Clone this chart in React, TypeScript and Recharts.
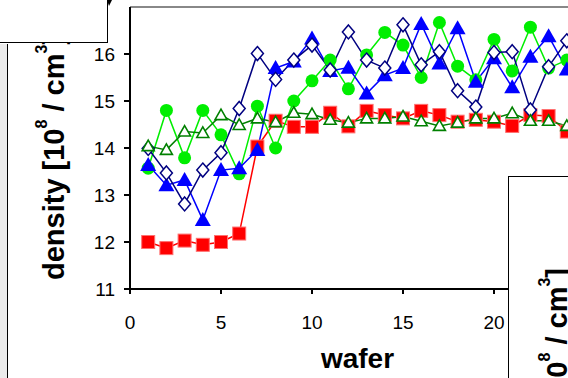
import React from 'react';
import { LineChart, Line, XAxis, YAxis, ReferenceLine, Label } from 'recharts';

const wafers = [1, 2, 3, 4, 5, 6, 7, 8, 9, 10, 11, 12, 13, 14, 15, 16, 17, 18, 19, 20, 21, 22, 23, 24];
const redSquares = [12.0, 11.87, 12.03, 11.94, 12.0, 12.18, 14.03, 14.58, 14.45, 14.45, 14.75, 14.46, 14.79, 14.7, 14.63, 14.79, 14.7, 14.56, 14.6, 14.56, 14.47, 14.7, 14.68, 14.35];
const greenTriangles = [14.04, 13.96, 14.35, 14.32, 14.7, 14.49, 14.63, 14.55, 14.75, 14.72, 14.6, 14.54, 14.63, 14.63, 14.67, 14.57, 14.47, 14.54, 14.63, 14.63, 14.74, 14.58, 14.58, 14.47];
const limeCircles = [13.57, 14.8, 13.79, 14.8, 14.28, 13.45, 14.89, 14.0, 15.0, 15.43, 15.87, 15.26, 15.98, 16.46, 16.19, 15.5, 16.67, 15.74, 15.45, 16.31, 15.64, 16.57, 15.7, 15.87];
const blueTriangles = [13.64, 13.21, 13.32, 12.47, 13.53, 13.57, 13.96, 15.7, 15.84, 16.33, 15.64, 15.71, 15.16, 15.55, 15.7, 16.64, 15.8, 16.55, 15.41, 15.91, 15.29, 15.94, 16.38, 15.67];
const navyDiamonds = [13.99, 13.47, 12.81, 13.53, 13.9, 14.84, 16.01, 15.46, 15.87, 16.19, 15.66, 16.47, 15.87, 15.7, 16.62, 15.77, 16.05, 15.22, 14.87, 16.03, 16.05, 14.81, 15.73, 16.28];

const xTicks = [0, 5, 10, 15, 20, 25];
const yTicks = [11, 12, 13, 14, 15, 16];

const data = wafers.map((w, i) => ({
  wafer: w,
  red: redSquares[i],
  dkgreen: greenTriangles[i],
  lime: limeCircles[i],
  blue: blueTriangles[i],
  navy: navyDiamonds[i],
}));

const FONT = '"Liberation Sans", Arial, sans-serif';

const squareDot = (p: any) => (
  <rect key={p.index} x={p.cx - 6.5} y={p.cy - 6.5} width={13} height={13} fill="#ff0000" stroke="#ff7070" strokeWidth={1} />
);
const circleDot = (p: any) => <circle key={p.index} cx={p.cx} cy={p.cy} r={6.5} fill="#00ee00" />;
const blueTriDot = (p: any) => (
  <path key={p.index} d={`M${p.cx},${p.cy - 8} L${p.cx + 8},${p.cy + 6} L${p.cx - 8},${p.cy + 6} Z`} fill="#0000ff" />
);
const greenTriDot = (p: any) => (
  <path key={p.index} d={`M${p.cx},${p.cy - 6} L${p.cx + 6},${p.cy + 4.5} L${p.cx - 6},${p.cy + 4.5} Z`} fill="#ffffff" stroke="#008000" strokeWidth={1.6} />
);
const diamondDot = (p: any) => (
  <path key={p.index} d={`M${p.cx},${p.cy - 7} L${p.cx + 6},${p.cy} L${p.cx},${p.cy + 7} L${p.cx - 6},${p.cy} Z`} fill="#ffffff" stroke="#000080" strokeWidth={1.5} />
);

const DensityText = ({ x, y, anchor }: { x: number; y: number; anchor: 'start' | 'end' | 'middle' }) => (
  <text
    x={x}
    y={y}
    transform={`rotate(-90, ${x}, ${y})`}
    textAnchor={anchor}
    fontFamily={FONT}
    fontWeight="bold"
    fontSize={29}
    fill="#000"
  >
    <tspan>density [10</tspan>
    <tspan dy={-17} fontSize={16}>8</tspan>
    <tspan dy={17}> / cm</tspan>
    <tspan dy={-17} fontSize={16}>3</tspan>
    <tspan dy={17}>]</tspan>
  </text>
);

export default function App() {
  return (
    <div style={{ position: 'fixed', left: 0, top: 0, width: 568, height: 378, overflow: 'hidden', background: '#fff' }}>
      <LineChart width={610} height={378} data={data} margin={{ top: 7, right: 25, left: 0, bottom: 0 }}>
        <XAxis
          dataKey="wafer"
          type="number"
          domain={[0, 25]}
          ticks={xTicks}
          height={89}
          stroke="#000"
          strokeWidth={2}
          tickSize={5}
          tickMargin={22}
          tick={{ fill: '#000', fontSize: 19, fontFamily: FONT }}
        >
          <Label
            content={({ viewBox }: any) => (
              <text
                x={viewBox.x + viewBox.width / 2}
                y={viewBox.y + viewBox.height - 10}
                textAnchor="middle"
                fontFamily={FONT}
                fontWeight="bold"
                fontSize={28}
                fill="#000"
              >
                wafer
              </text>
            )}
          />
        </XAxis>
        <YAxis
          type="number"
          domain={[11, 17]}
          ticks={yTicks}
          width={130}
          stroke="#000"
          strokeWidth={2}
          tickSize={6}
          tickMargin={9}
          tick={{ fill: '#000', fontSize: 19, fontFamily: FONT }}
        >
          <Label
            content={({ viewBox }: any) => (
              <DensityText x={64} y={viewBox.y + viewBox.height - 9} anchor="start" />
            )}
          />
        </YAxis>
        <ReferenceLine y={17} stroke="#888" strokeWidth={2} />
        <Line dataKey="red" stroke="#ff0000" strokeWidth={1.5} dot={squareDot} isAnimationActive={false} />
        <Line dataKey="lime" stroke="#00ee00" strokeWidth={1.5} dot={circleDot} isAnimationActive={false} />
        <Line dataKey="blue" stroke="#0000ff" strokeWidth={1.5} dot={blueTriDot} isAnimationActive={false} />
        <Line dataKey="navy" stroke="#000080" strokeWidth={1.5} dot={diamondDot} isAnimationActive={false} />
        <Line dataKey="dkgreen" stroke="#008000" strokeWidth={1.5} dot={greenTriDot} isAnimationActive={false} />
      </LineChart>

      {/* neighbouring panels */}
      <div style={{ position: 'absolute', left: 0, top: 0, width: 107, height: 42, background: '#fff', borderRight: '1.5px solid #000', borderBottom: '1.5px solid #000' }} />
      <svg style={{ position: 'absolute', left: 106, top: 0 }} width={8} height={8}>
        <path d="M1,0 L6,0 L3,6 Z" fill="#000" />
      </svg>
      <div style={{ position: 'absolute', left: 0, top: 44, width: 7, height: 334, background: '#ebebeb', borderRight: '1.5px solid #000' }} />
      <div style={{ position: 'absolute', left: 508, top: 176, width: 80, height: 220, background: '#fff', borderLeft: '1.5px solid #000', borderTop: '1.5px solid #000' }}>
        <svg width={80} height={220} style={{ position: 'absolute', left: 0, top: 0 }}>
          <DensityText x={58} y={91} anchor="end" />
        </svg>
      </div>
    </div>
  );
}
